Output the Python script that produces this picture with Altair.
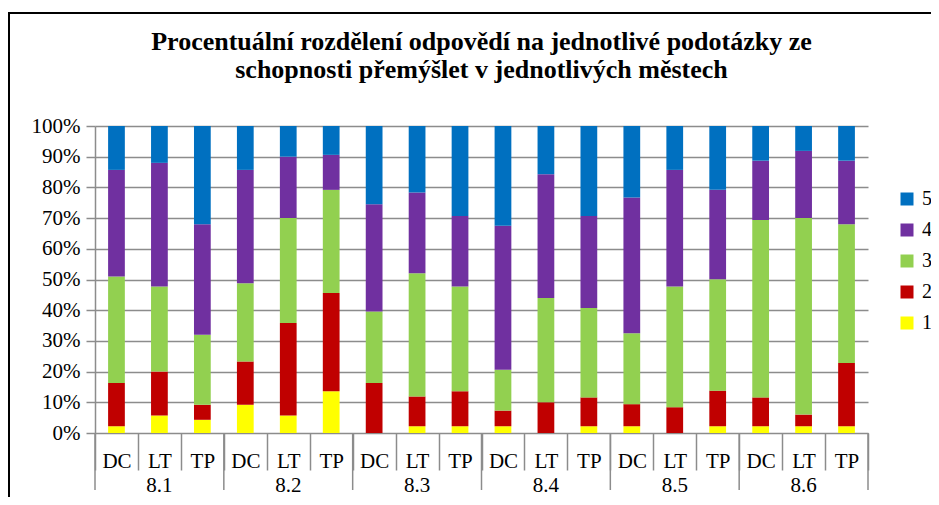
import altair as alt
import pandas as pd

groups = ["8.1", "8.2", "8.3", "8.4", "8.5", "8.6"]
cities = ["DC", "LT", "TP"]
levels = ["1", "2", "3", "4", "5"]

# share of each answer (percent), bars in order 8.1 DC, 8.1 LT, 8.1 TP, 8.2 DC, ...
level1 = [2.2, 5.7, 4.3, 9.2, 5.7, 13.6, 0.0, 2.2, 2.2, 2.2, 0.0, 2.2, 2.2, 0.0, 2.2, 2.2, 2.2, 2.2]
level2 = [14.1, 14.3, 4.9, 14.1, 30.1, 32.0, 16.3, 9.7, 11.4, 5.1, 10.0, 9.4, 7.2, 8.4, 11.6, 9.4, 3.8, 20.6]
level3 = [34.7, 27.7, 22.8, 25.5, 34.2, 33.6, 23.3, 40.1, 34.1, 13.3, 34.0, 29.1, 23.1, 39.3, 36.3, 57.8, 64.0, 45.2]
level4 = [34.7, 40.3, 36.0, 36.9, 20.0, 11.4, 34.9, 26.3, 23.0, 46.9, 40.3, 30.0, 44.2, 38.0, 29.1, 19.3, 21.9, 20.7]
level5 = [14.3, 12.0, 32.0, 14.3, 10.0, 9.4, 25.5, 21.7, 29.3, 32.5, 15.7, 29.3, 23.3, 14.3, 20.8, 11.3, 8.1, 11.3]

colors = ["#FFFF00", "#C00000", "#92D050", "#7030A0", "#0070C0"]

title_lines = ["Procentuální rozdělení odpovědí na jednotlivé podotázky ze",
               "schopnosti přemýšlet v jednotlivých městech"]

keys = [f"{g}|{c}" for g in groups for c in cities]
series = [level1, level2, level3, level4, level5]

rows = []
for li, (lev, vals) in enumerate(zip(levels, series)):
    for k, v in zip(keys, vals):
        rows.append({"key": k, "level": lev, "order": li, "value": v})
df = pd.DataFrame(rows)

grp_df = pd.DataFrame({"key": [f"{g}|LT" for g in groups], "label": groups})
start_df = pd.DataFrame({"key": [f"{g}|DC" for g in groups]})
end_df = pd.DataFrame({"key": [keys[-1]]})

W, H = 773, 307
FONT = "Liberation Serif, Times New Roman, DejaVu Serif, serif"
GRAY = "#8c8c8c"

xscale = alt.Scale(domain=keys, paddingInner=0, paddingOuter=0)

bars = alt.Chart(df).mark_bar(width={"band": 0.39}).encode(
    x=alt.X("key:N", scale=xscale, sort=None, title=None,
            axis=alt.Axis(tickBand="extent", tickSize=37, tickColor=GRAY, tickWidth=1.5,
                          domain=False, labelAngle=0, labelExpr="split(datum.value, '|')[1]",
                          labelFont=FONT, labelFontSize=21, labelColor="black",
                          labelPadding=-20, labelBaseline="top")),
    y=alt.Y("value:Q", stack="normalize", title=None,
            scale=alt.Scale(domain=[0, 1], nice=False),
            axis=alt.Axis(format="%", values=[i / 10 for i in range(11)],
                          grid=True, gridColor=GRAY, gridWidth=1.5,
                          domainColor=GRAY, domainWidth=1.5,
                          tickColor=GRAY, tickWidth=1.5, tickSize=9,
                          labelFont=FONT, labelFontSize=21, labelColor="black",
                          labelPadding=6)),
    color=alt.Color("level:N", scale=alt.Scale(domain=levels[::-1], range=colors[::-1]),
                    legend=alt.Legend(orient="none", legendX=802, legendY=63, title=None,
                                      symbolType="square", symbolSize=169, symbolStrokeWidth=0,
                                      labelFont=FONT, labelFontSize=20, labelColor="black",
                                      rowPadding=11, labelOffset=5, padding=0)),
    order=alt.Order("order:Q", sort="ascending"),
)

grp_text = alt.Chart(grp_df).mark_text(font=FONT, fontSize=21, color="black", baseline="middle").encode(
    x=alt.X("key:N", scale=xscale, sort=None),
    y=alt.value(H + 53),
    text="label:N",
)

grp_lines = alt.Chart(start_df).mark_rule(color=GRAY, strokeWidth=1.5).encode(
    x=alt.X("key:N", scale=xscale, sort=None, bandPosition=0),
    y=alt.value(H),
    y2=alt.value(H + 57),
)
end_line = alt.Chart(end_df).mark_rule(color=GRAY, strokeWidth=1.5).encode(
    x=alt.X("key:N", scale=xscale, sort=None, bandPosition=1),
    y=alt.value(H),
    y2=alt.value(H + 57),
)

frame = alt.Chart(end_df).mark_rect(fill=None, stroke="black", strokeWidth=2).encode(
    x=alt.value(-86), x2=alt.value(W + 200),
    y=alt.value(-113), y2=alt.value(H + 200),
)

chart = alt.layer(frame, bars, grp_lines, end_line, grp_text).properties(
    width=W, height=H,
    autosize=alt.AutoSizeParams(type="none"),
    padding={"left": 87, "top": 118, "right": 63, "bottom": 64},
    title=alt.Title(title_lines, font=FONT, fontSize=26, fontWeight="bold", color="black",
                    anchor="middle", offset=-71, lineHeight=28),
).configure_view(stroke=None)

chart.save("out.html", embed_options={"renderer": "svg", "actions": False})
